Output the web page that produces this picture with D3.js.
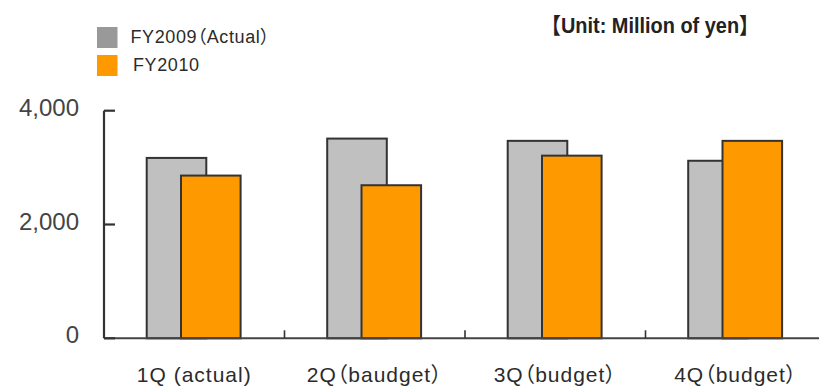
<!DOCTYPE html>
<html>
<head>
<meta charset="utf-8">
<script src="https://cdn.jsdelivr.net/npm/d3@7"></script>
<style>
  html, body { margin: 0; padding: 0; background: #fff; }
  svg { display: block; }
  .cjk { font-feature-settings: "palt" 1; }
</style>
</head>
<body>
<svg id="chart" width="819" height="386"></svg>
<script>
// Quarterly figures, million yen
const quarters = ["1Q (actual)", "2Q（baudget）", "3Q（budget）", "4Q（budget）"];
const seriesNames = ["FY2009（Actual）", "FY2010"];
const fy2009 = [3170, 3510, 3470, 3120];
const fy2010 = [2860, 2690, 3210, 3470];
const yTicks = [0, 2000, 4000];

const barFill = ["#c0c0c0", "#ff9900"];
const legendFill = ["#999999", "#ff9900"];

const svg = d3.select("#chart");
const plotLeft = 104, plotRight = 826, plotTop = 110.7, plotBottom = 338.3;

const x = d3.scaleBand().domain(quarters).range([plotLeft, plotRight]).padding(0);
const inner = d3.scalePoint().domain(seriesNames).range([42.7, 77]);
const barW = 59.6;
const y = d3.scaleLinear().domain([0, 4000]).range([plotBottom, plotTop]);

const rows = quarters.map((q, i) => ({ q, vals: [fy2009[i], fy2010[i]] }));

// bars: FY2009 behind, FY2010 in front, partially overlapping
seriesNames.forEach((s, si) => {
  svg.append("g").selectAll("rect").data(rows).join("rect")
    .attr("x", d => x(d.q) + inner(s))
    .attr("y", d => y(d.vals[si]))
    .attr("width", barW)
    .attr("height", d => y(0) - y(d.vals[si]))
    .attr("fill", barFill[si])
    .attr("stroke", "#333")
    .attr("stroke-width", 2);
});

// category axis along the bottom
const xAxis = svg.append("g");
xAxis.append("line")
  .attr("x1", plotLeft).attr("x2", plotRight)
  .attr("y1", y(0)).attr("y2", y(0))
  .attr("stroke", "#444").attr("stroke-width", 2);
xAxis.selectAll("line.sep").data(quarters.slice(1)).join("line")
  .attr("class", "sep")
  .attr("x1", d => x(d)).attr("x2", d => x(d))
  .attr("y1", y(0)).attr("y2", y(0) - 8)
  .attr("stroke", "#333").attr("stroke-width", 1.6);
xAxis.selectAll("text").data(quarters).join("text")
  .attr("class", "cjk")
  .attr("x", d => x(d) + x.bandwidth() / 2)
  .attr("y", 381.5)
  .attr("text-anchor", "middle")
  .attr("font-family", "'Liberation Sans', Arial, 'Noto Sans CJK JP', sans-serif")
  .attr("font-size", 21)
  .attr("letter-spacing", 1)
  .attr("fill", "#2b2b2b")
  .text(d => d);

// value axis with inward ticks
const yAxis = svg.append("g");
yAxis.append("line")
  .attr("x1", plotLeft).attr("x2", plotLeft)
  .attr("y1", y(4000)).attr("y2", y(0))
  .attr("stroke", "#333").attr("stroke-width", 2.2);
yAxis.selectAll("line.tk").data(yTicks).join("line")
  .attr("class", "tk")
  .attr("x1", plotLeft).attr("x2", plotLeft + 11)
  .attr("y1", d => y(d)).attr("y2", d => y(d))
  .attr("stroke", "#333").attr("stroke-width", 2.2);
yAxis.selectAll("text").data(yTicks).join("text")
  .attr("x", 79)
  .attr("y", d => y(d) + 5)
  .attr("text-anchor", "end")
  .attr("font-family", "'Liberation Sans', Arial, sans-serif")
  .attr("font-size", 24)
  .attr("fill", "#444")
  .text(d => d3.format(",")(d));

// legend
const legend = svg.append("g");
const legendY = [27, 55];
seriesNames.forEach((s, i) => {
  legend.append("rect")
    .attr("x", 97).attr("y", legendY[i])
    .attr("width", 20.5).attr("height", 21)
    .attr("fill", legendFill[i]);
  legend.append("text")
    .attr("class", "cjk")
    .attr("x", i === 0 ? 130.5 : 133)
    .attr("y", legendY[i] + 16)
    .attr("font-family", "'Liberation Sans', Arial, 'Noto Sans CJK JP', sans-serif")
    .attr("font-size", 18)
    .attr("letter-spacing", 0.6)
    .attr("fill", "#2b2b2b")
    .text(s);
});

// unit note
svg.append("text")
  .attr("x", 541).attr("y", 33)
  .attr("font-family", "'Liberation Sans', Arial, 'Noto Sans CJK JP', sans-serif")
  .attr("font-size", 22)
  .attr("font-weight", "bold")
  .attr("fill", "#222")
  .attr("textLength", 218)
  .attr("lengthAdjust", "spacingAndGlyphs")
  .text("【Unit: Million of yen】");
</script>
</body>
</html>
